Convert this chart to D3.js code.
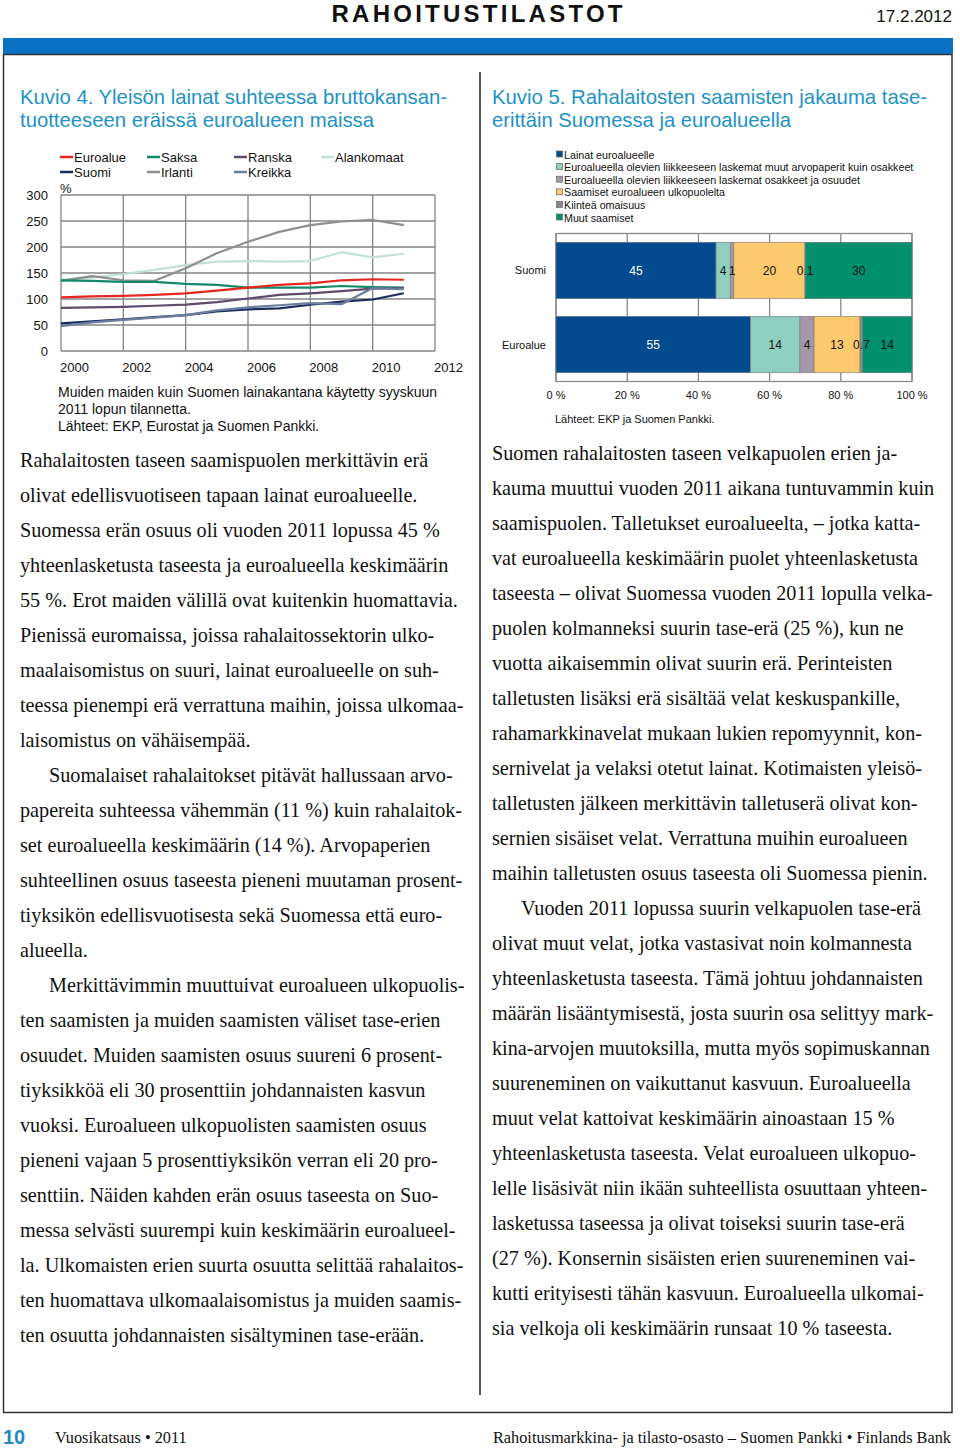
<!DOCTYPE html>
<html lang="fi">
<head>
<meta charset="UTF-8">
<title>Rahoitustilastot 17.2.2012</title>
<script src="https://d3js.org/d3.v7.min.js"></script>
<style>
  body { margin: 0; background: #fff; }
  svg { display: block; }
  .sans { font-family: "Liberation Sans", Arial, sans-serif; }
  .narrow { font-family: "Liberation Sans Narrow", "Arial Narrow", "Liberation Sans", sans-serif; }
  .serif { font-family: "Liberation Serif", "Times New Roman", serif; }
</style>
</head>
<body>
<svg id="page" width="960" height="1450"></svg>
<script>
// ---- Kuvio 4 data (% of GDP), years 2000..2011
const years = [2000, 2001, 2002, 2003, 2004, 2005, 2006, 2007, 2008, 2009, 2010, 2011];
const euroalue   = [103, 105, 106, 108, 111, 116, 122, 127, 130, 136, 138, 137];
const suomi      = [53, 57, 61, 65, 69, 76, 80, 82, 89, 95, 99, 111];
const saksa      = [136, 135, 133, 133, 129, 127, 122, 122, 122, 125, 123, 122];
const irlanti    = [135, 144, 136, 135, 159, 188, 210, 229, 242, 249, 252, 242];
const ranska     = [83, 84, 85, 87, 89, 94, 101, 108, 111, 115, 120, 121];
const kreikka    = [48, 55, 60, 64, 69, 78, 84, 88, 92, 90, 121, 119];
const alankomaat = [137, 141, 148, 156, 165, 172, 173, 172, 173, 190, 180, 187];
const lineNames  = ["Euroalue", "Suomi", "Saksa", "Irlanti", "Ranska", "Kreikka", "Alankomaat"];
const lineColors = ["#e5271f", "#1b2d5c", "#128a6a", "#8f8f8f", "#5e4b6d", "#6c7fa0", "#c3e1d4"];
const yTicks4 = [0, 50, 100, 150, 200, 250, 300];
const xTicks4 = [2000, 2002, 2004, 2006, 2008, 2010, 2012];

// ---- Kuvio 5 data (share of balance sheet, %)
const barCategories = ["Suomi", "Euroalue"];
const barSeries = ["Lainat euroalueelle",
  "Euroalueella olevien liikkeeseen laskemat muut arvopaperit kuin osakkeet",
  "Euroalueella olevien liikkeeseen laskemat osakkeet ja osuudet",
  "Saamiset euroalueen ulkopuolelta",
  "Kiinteä omaisuus",
  "Muut saamiset"];
const barLabels = ["45", "4", "1", "20", "0.1", "30"];
const suomiShares    = [45, 4, 1, 20, 0.1, 30];
const euroalueShares = [55, 14, 4, 13, 0.7, 14];
const euroLabels = ["55", "14", "4", "13", "0.7", "14"];
const barColors = ["#034b8e", "#8ecfbf", "#a697a8", "#fcc96d", "#8a8a8a", "#00906e"];
const xTicks5 = [0, 0.2, 0.4, 0.6, 0.8, 1];

// ---- body text
const leftText = [
  "Rahalaitosten taseen saamispuolen merkittävin erä",
  "olivat edellisvuotiseen tapaan lainat euroalueelle.",
  "Suomessa erän osuus oli vuoden 2011 lopussa 45 %",
  "yhteenlasketusta taseesta ja euroalueella keskimäärin",
  "55 %. Erot maiden välillä ovat kuitenkin huomattavia.",
  "Pienissä euromaissa, joissa rahalaitossektorin ulko-",
  "maalaisomistus on suuri, lainat euroalueelle on suh-",
  "teessa pienempi erä verrattuna maihin, joissa ulkomaa-",
  "laisomistus on vähäisempää.",
  "\tSuomalaiset rahalaitokset pitävät hallussaan arvo-",
  "papereita suhteessa vähemmän (11 %) kuin rahalaitok-",
  "set euroalueella keskimäärin (14 %). Arvopaperien",
  "suhteellinen osuus taseesta pieneni muutaman prosent-",
  "tiyksikön edellisvuotisesta sekä Suomessa että euro-",
  "alueella.",
  "\tMerkittävimmin muuttuivat euroalueen ulkopuolis-",
  "ten saamisten ja muiden saamisten väliset tase-erien",
  "osuudet. Muiden saamisten osuus suureni 6 prosent-",
  "tiyksikköä eli 30 prosenttiin johdannaisten kasvun",
  "vuoksi. Euroalueen ulkopuolisten saamisten osuus",
  "pieneni vajaan 5 prosenttiyksikön verran eli 20 pro-",
  "senttiin. Näiden kahden erän osuus taseesta on Suo-",
  "messa selvästi suurempi kuin keskimäärin euroalueel-",
  "la. Ulkomaisten erien suurta osuutta selittää rahalaitos-",
  "ten huomattava ulkomaalaisomistus ja muiden saamis-",
  "ten osuutta johdannaisten sisältyminen tase-erään."
];
const rightText = [
  "Suomen rahalaitosten taseen velkapuolen erien ja-",
  "kauma muuttui vuoden 2011 aikana tuntuvammin kuin",
  "saamispuolen. Talletukset euroalueelta, – jotka katta-",
  "vat euroalueella keskimäärin puolet yhteenlasketusta",
  "taseesta – olivat Suomessa vuoden 2011 lopulla velka-",
  "puolen kolmanneksi suurin tase-erä (25 %), kun ne",
  "vuotta aikaisemmin olivat suurin erä. Perinteisten",
  "talletusten lisäksi erä sisältää velat keskuspankille,",
  "rahamarkkinavelat mukaan lukien repomyynnit, kon-",
  "sernivelat ja velaksi otetut lainat. Kotimaisten yleisö-",
  "talletusten jälkeen merkittävin talletuserä olivat kon-",
  "sernien sisäiset velat. Verrattuna muihin euroalueen",
  "maihin talletusten osuus taseesta oli Suomessa pienin.",
  "\tVuoden 2011 lopussa suurin velkapuolen tase-erä",
  "olivat muut velat, jotka vastasivat noin kolmannesta",
  "yhteenlasketusta taseesta. Tämä johtuu johdannaisten",
  "määrän lisääntymisestä, josta suurin osa selittyy mark-",
  "kina-arvojen muutoksilla, mutta myös sopimuskannan",
  "suureneminen on vaikuttanut kasvuun. Euroalueella",
  "muut velat kattoivat keskimäärin ainoastaan 15 %",
  "yhteenlasketusta taseesta. Velat euroalueen ulkopuo-",
  "lelle lisäsivät niin ikään suhteellista osuuttaan yhteen-",
  "lasketussa taseessa ja olivat toiseksi suurin tase-erä",
  "(27 %). Konsernin sisäisten erien suureneminen vai-",
  "kutti erityisesti tähän kasvuun. Euroalueella ulkomai-",
  "sia velkoja oli keskimäärin runsaat 10 % taseesta."
];

const svg = d3.select("#page");
const titleBlue = "#2192c6";

// ---- page frame
svg.append("text").attr("class", "narrow").attr("x", 477).attr("y", 22)
  .attr("text-anchor", "middle").attr("font-size", 24).attr("font-weight", "bold")
  .attr("textLength", 291).attr("lengthAdjust", "spacing")
  .attr("fill", "#111").text("RAHOITUSTILASTOT");
svg.append("text").attr("class", "narrow").attr("x", 952).attr("y", 22)
  .attr("text-anchor", "end").attr("font-size", 17).attr("fill", "#111").text("17.2.2012");
svg.append("rect").attr("x", 3).attr("y", 38).attr("width", 950).attr("height", 16)
  .attr("fill", "#0a72c4");
svg.append("rect").attr("x", 3.5).attr("y", 54.5).attr("width", 948.5).attr("height", 1358)
  .attr("fill", "none").attr("stroke", "#333").attr("stroke-width", 1.5);
svg.append("line").attr("x1", 480).attr("x2", 480).attr("y1", 72).attr("y2", 1395)
  .attr("stroke", "#222").attr("stroke-width", 1.5);

// ---- titles
const titles = [
  {x: 20, lines: ["Kuvio 4. Yleisön lainat suhteessa bruttokansan-", "tuotteeseen eräissä euroalueen maissa"], w: [427, 354]},
  {x: 492, lines: ["Kuvio 5. Rahalaitosten saamisten jakauma tase-", "erittäin Suomessa ja euroalueella"], w: [435, 299]}
];
titles.forEach(t => {
  t.lines.forEach((s, i) => {
    svg.append("text").attr("class", "narrow").attr("x", t.x).attr("y", 104 + i * 23)
      .attr("font-size", 21).attr("fill", titleBlue)
      .attr("textLength", t.w[i]).attr("lengthAdjust", "spacingAndGlyphs").text(s);
  });
});

// ---- Kuvio 4: line chart
const x4 = d3.scaleLinear().domain([2000, 2012]).range([61, 435]);
const y4 = d3.scaleLinear().domain([0, 300]).range([351, 195]);
const g4 = svg.append("g").attr("class", "sans");

g4.selectAll(".hgrid").data(yTicks4).enter().append("line")
  .attr("x1", x4(2000)).attr("x2", x4(2012))
  .attr("y1", d => y4(d)).attr("y2", d => y4(d))
  .attr("stroke", "#858585").attr("stroke-width", 1.3);
g4.selectAll(".vgrid").data(xTicks4).enter().append("line")
  .attr("x1", d => x4(d)).attr("x2", d => x4(d))
  .attr("y1", y4(0)).attr("y2", y4(300))
  .attr("stroke", "#858585").attr("stroke-width", 1.3);

g4.selectAll(".ylab").data(yTicks4).enter().append("text")
  .attr("x", 48).attr("y", d => y4(d) + 5).attr("text-anchor", "end")
  .attr("font-size", 13).attr("fill", "#111").text(d => d);
g4.selectAll(".xlab").data(xTicks4).enter().append("text")
  .attr("x", d => x4(d) - 1).attr("y", 372)
  .attr("font-size", 13).attr("fill", "#111").text(d => d);
g4.append("text").attr("x", 60).attr("y", 193).attr("font-size", 13).attr("fill", "#111").text("%");

const allSeries = [euroalue, suomi, saksa, irlanti, ranska, kreikka, alankomaat];
const line4 = d3.line().x((d, i) => x4(years[i])).y(d => y4(d));
// draw light series first so darker lines sit on top, like the original
const drawOrder = [6, 3, 2, 0, 4, 1, 5];
drawOrder.forEach(k => {
  g4.append("path").datum(allSeries[k]).attr("d", line4)
    .attr("fill", "none").attr("stroke", lineColors[k]).attr("stroke-width", 2.2)
    .attr("stroke-linejoin", "round");
});

// legend, column major in two rows
const legendPos = [[60, 157], [60, 172], [147, 157], [147, 172], [234, 157], [234, 172], [321, 157]];
lineNames.forEach((name, k) => {
  const [lx, ly] = legendPos[k];
  g4.append("line").attr("x1", lx).attr("x2", lx + 13).attr("y1", ly).attr("y2", ly)
    .attr("stroke", lineColors[k]).attr("stroke-width", 2.5);
  g4.append("text").attr("x", lx + 14).attr("y", ly + 4.5).attr("font-size", 13)
    .attr("fill", "#111").text(name);
});

["Muiden maiden kuin Suomen lainakantana käytetty syyskuun",
 "2011 lopun tilannetta.",
 "Lähteet: EKP, Eurostat ja Suomen Pankki."].forEach((s, i) => {
  g4.append("text").attr("x", 58).attr("y", 397 + i * 17).attr("font-size", 14)
    .attr("fill", "#111").text(s);
});

// ---- Kuvio 5: stacked 100 % bars
const g5 = svg.append("g").attr("class", "sans");
const x5 = d3.scaleLinear().domain([0, 1]).range([556, 912]);
const y5 = d3.scaleBand().domain(barCategories).range([233.5, 381.5])
  .paddingInner(0.237).paddingOuter(0.118);

const table = barCategories.map((c, r) => {
  const vals = r === 0 ? suomiShares : euroalueShares;
  const row = {cat: c};
  barSeries.forEach((s, i) => row[s] = vals[i]);
  return row;
});
const stacked = d3.stack().keys(barSeries).offset(d3.stackOffsetExpand)(table);

// legend
barSeries.forEach((s, i) => {
  const ly = 154.5 + i * 12.6;
  g5.append("rect").attr("x", 556.5).attr("y", ly - 3.5).attr("width", 6).attr("height", 6)
    .attr("fill", barColors[i]).attr("stroke", "#666").attr("stroke-width", 0.7);
  g5.append("text").attr("x", 564).attr("y", ly + 4).attr("font-size", 10.7)
    .attr("fill", "#111").text(s);
});

// frame and grid
g5.append("rect").attr("x", x5(0)).attr("y", 233.5).attr("width", x5(1) - x5(0)).attr("height", 148)
  .attr("fill", "none").attr("stroke", "#8a8a8a").attr("stroke-width", 1.3);
g5.selectAll(".vg").data(xTicks5).enter().append("line")
  .attr("x1", d => x5(d)).attr("x2", d => x5(d)).attr("y1", 233.5).attr("y2", 381.5)
  .attr("stroke", "#8a8a8a").attr("stroke-width", 1.3);

stacked.forEach((layer, i) => {
  g5.selectAll(".seg" + i).data(layer).enter().append("rect")
    .attr("x", d => x5(d[0])).attr("width", d => x5(d[1]) - x5(d[0]))
    .attr("y", d => y5(d.data.cat)).attr("height", y5.bandwidth())
    .attr("fill", barColors[i]).attr("stroke", "#7a7a7a").attr("stroke-width", 0.6);
});
stacked.forEach((layer, i) => {
  g5.selectAll(".lab" + i).data(layer).enter().append("text")
    .attr("x", d => x5((d[0] + d[1]) / 2)).attr("y", d => y5(d.data.cat) + y5.bandwidth() / 2 + 4.5)
    .attr("text-anchor", "middle").attr("font-size", 12)
    .attr("fill", i === 0 ? "#fff" : "#111")
    .text((d, r) => r === 0 ? barLabels[i] : euroLabels[i]);
});

g5.selectAll(".cat").data(barCategories).enter().append("text")
  .attr("x", 546).attr("y", d => y5(d) + y5.bandwidth() / 2 + 4)
  .attr("text-anchor", "end").attr("font-size", 11).attr("fill", "#111").text(d => d);
g5.selectAll(".xt").data(xTicks5).enter().append("text")
  .attr("x", d => x5(d)).attr("y", 399).attr("text-anchor", "middle")
  .attr("font-size", 11).attr("fill", "#111").text(d => d3.format(".0%")(d).replace("%", " %"));
g5.append("text").attr("x", 555).attr("y", 423).attr("font-size", 11).attr("fill", "#111")
  .text("Lähteet: EKP ja Suomen Pankki.");

// ---- body text
function writeColumn(lines, x0, y0) {
  lines.forEach((s, i) => {
    const indent = s.startsWith("\t");
    svg.append("text").attr("class", "serif").attr("x", x0 + (indent ? 29 : 0))
      .attr("y", y0 + i * 35).attr("font-size", 20.2).attr("fill", "#111")
      .text(indent ? s.slice(1) : s);
  });
}
writeColumn(leftText, 20, 467);
writeColumn(rightText, 492, 460);

// ---- footer
svg.append("text").attr("class", "sans").attr("x", 3).attr("y", 1444).attr("font-size", 20)
  .attr("font-weight", "bold").attr("fill", "#1f8bc0").text("10");
svg.append("text").attr("class", "serif").attr("x", 55).attr("y", 1443).attr("font-size", 16.3)
  .attr("fill", "#111").text("Vuosikatsaus • 2011");
svg.append("text").attr("class", "serif").attr("x", 951).attr("y", 1443).attr("font-size", 16.3)
  .attr("text-anchor", "end").attr("fill", "#111")
  .attr("textLength", 458).attr("lengthAdjust", "spacingAndGlyphs")
  .text("Rahoitusmarkkina- ja tilasto-osasto – Suomen Pankki • Finlands Bank");
</script>
</body>
</html>
